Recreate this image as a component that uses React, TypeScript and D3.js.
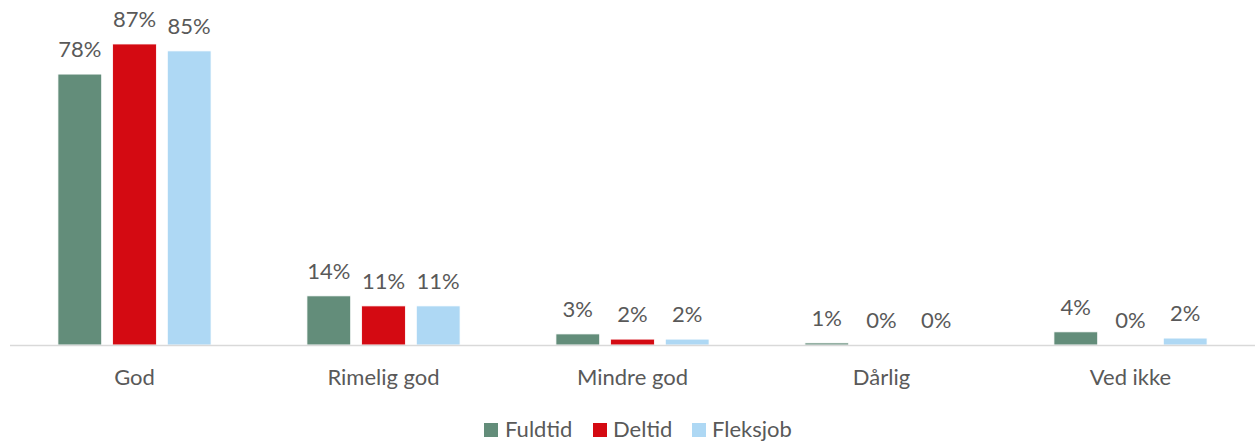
import React from "react";
import * as d3 from "d3";

const categories = ["God", "Rimelig god", "Mindre god", "Dårlig", "Ved ikke"];
const seriesNames = ["Fuldtid", "Deltid", "Fleksjob"];
const fuldtid = [78.3, 14.2, 3.2, 0.6, 3.8];
const deltid = [87.0, 11.3, 1.7, 0, 0];
const fleksjob = [85.0, 11.3, 1.7, 0, 2.0];
const colors = ["#638D7A", "#D40A12", "#AED8F4"];

const W = 1255;
const H = 441;
const FONT = "Lato, 'Open Sans', sans-serif";
const TEXT = "#595959";
const FS = 22;

export default function App() {
  const series = [fuldtid, deltid, fleksjob];
  const x0 = d3.scaleBand<string>().domain(categories).range([10, 1255]).paddingInner(0.385).paddingOuter(0.1925);
  const x1 = d3.scaleBand<string>().domain(seriesNames).range([0, x0.bandwidth()]).paddingInner(0.2).paddingOuter(0);
  const y = d3.scaleLinear().domain([0, 100]).range([345, -1]);
  const fmt = (v: number) => `${Math.round(v)}%`;

  const legendItems = [
    { x: 484, tx: 505 },
    { x: 593, tx: 613 },
    { x: 692, tx: 712 },
  ];

  return (
    <svg width={W} height={H} style={{ position: "absolute", left: 0, top: 0, background: "#fff" }} fontFamily={FONT}>
      {categories.map((c, ci) => (
        <g key={c} transform={`translate(${x0(c)},0)`}>
          {seriesNames.map((s, si) => {
            const v = series[si][ci];
            const bx = x1(s)!;
            const bw = x1.bandwidth();
            return (
              <g key={s}>
                <rect x={bx} y={y(v)} width={bw} height={Math.max(0, y(0) - y(v))} fill={colors[si]} stroke="#fff" strokeWidth={0.8} />
                <text x={bx + bw / 2} y={y(v) - 17} textAnchor="middle" fontSize={FS} fill={TEXT}>{fmt(v)}</text>
              </g>
            );
          })}
        </g>
      ))}
      <line x1={10} x2={1255} y1={y(0) + 0.5} y2={y(0) + 0.5} stroke="#D9D9D9" strokeWidth={1.5} />
      {categories.map((c) => (
        <text key={c} x={x0(c)! + x0.bandwidth() / 2} y={385} textAnchor="middle" fontSize={FS} fill={TEXT}>{c}</text>
      ))}
      {seriesNames.map((s, i) => (
        <g key={s}>
          <rect x={legendItems[i].x} y={423} width={14} height={14} fill={colors[i]} />
          <text x={legendItems[i].tx} y={437} fontSize={FS} fill={TEXT}>{s}</text>
        </g>
      ))}
    </svg>
  );
}
